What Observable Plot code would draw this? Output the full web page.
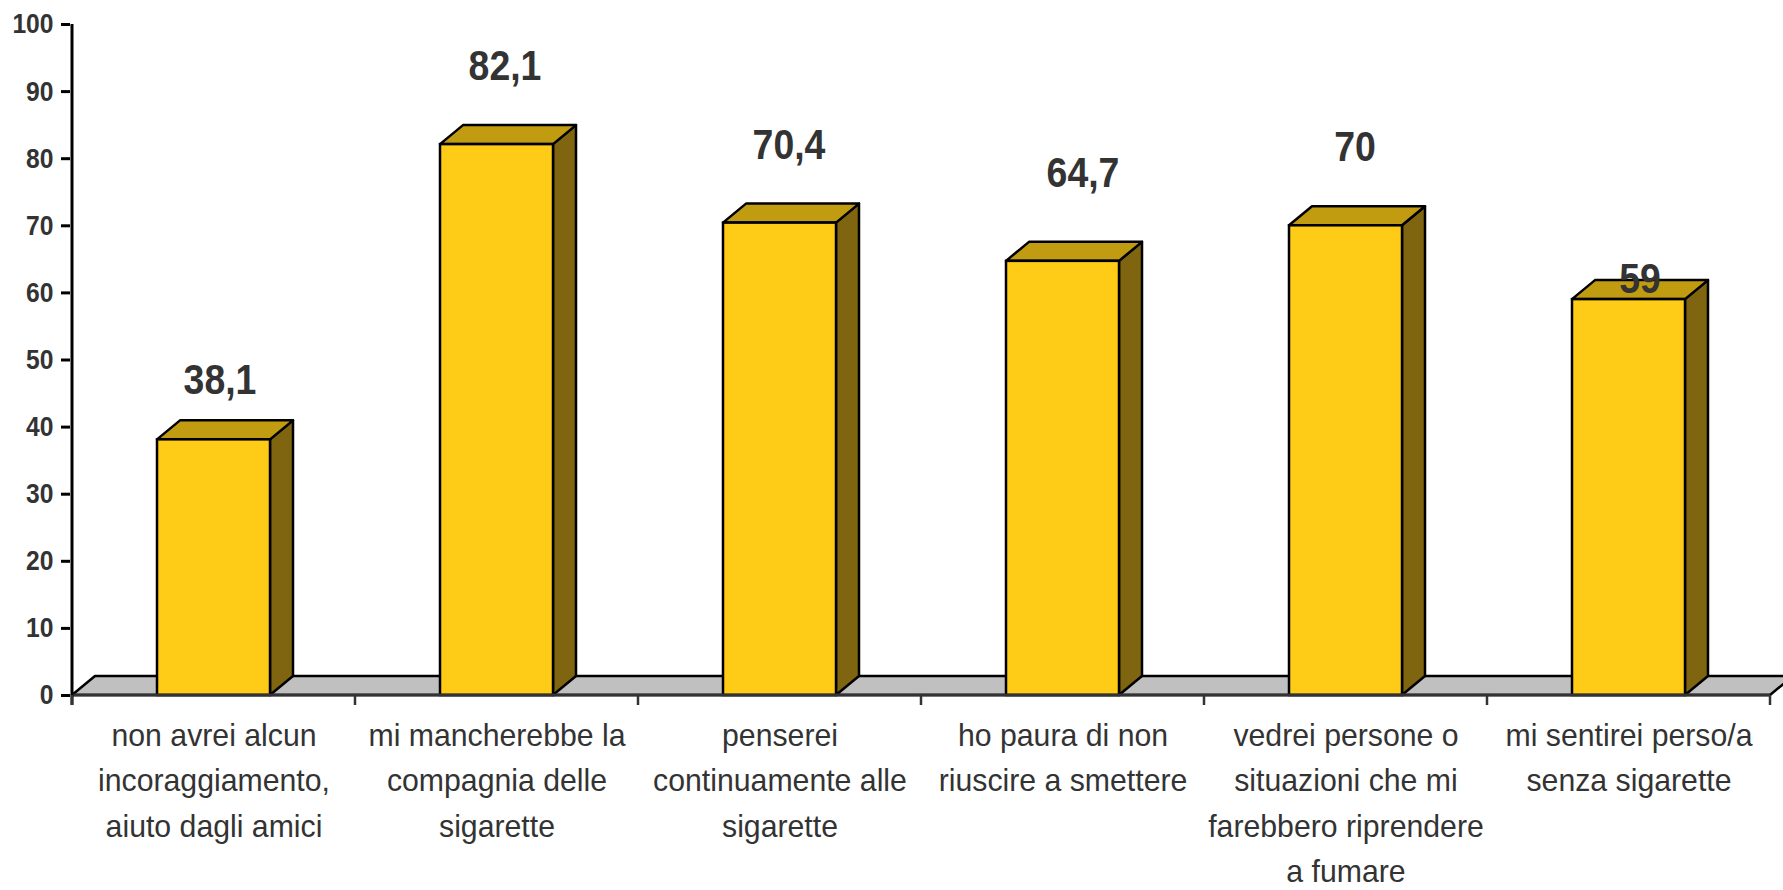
<!DOCTYPE html>
<html>
<head>
<meta charset="utf-8">
<script src="https://cdn.jsdelivr.net/npm/d3@7"></script>
<script src="https://cdn.jsdelivr.net/npm/@observablehq/plot@0.6"></script>
<style>
  html, body { margin: 0; padding: 0; background: #fff; overflow: hidden; }
</style>
</head>
<body>
<div id="chart"></div>
<script>
// ---- data ----
const categories = [
  "non avrei alcun\nincoraggiamento,\naiuto dagli amici",
  "mi mancherebbe la\ncompagnia delle\nsigarette",
  "penserei\ncontinuamente alle\nsigarette",
  "ho paura di non\nriuscire a smettere",
  "vedrei persone o\nsituazioni che mi\nfarebbero riprendere\na fumare",
  "mi sentirei perso/a\nsenza sigarette"
];
const values = [38.1, 82.1, 70.4, 64.7, 70, 59];
const yTicks = [0, 10, 20, 30, 40, 50, 60, 70, 80, 90, 100];

const rows = categories.map((c, i) => ({cat: c, value: values[i]}));

// ---- styling ----
const FRONT = "#FECB17", TOP = "#C29C10", SIDE = "#7F6510", FLOOR = "#C0C0C0";
const DEPTH_X = 23, DEPTH_Y = 19;
const PAD_INNER = 0.6, PAD_OUTER = 0.3;
const labelDx = [6, 8, 9, 20, 9, 11];
const labelDy = [-60, -78, -78, -88, -79, -20];

function boundaries(x) {
  const bw = x.bandwidth(), step = x.step();
  const gap = (step - bw) / 2;
  const b = categories.map(c => x(c) - gap);
  b.push(x(categories[categories.length - 1]) + bw + gap);
  return b;
}

// floor (gray platform)
const floorMark = (index, scales) => {
  const x = scales.x, y = scales.y;
  const b = boundaries(x);
  const x0 = b[0], x1 = b[b.length - 1], y0 = y(0);
  const g = d3.create("svg:g");
  g.append("path")
    .attr("d", `M${x0},${y0}L${x0 + DEPTH_X},${y0 - DEPTH_Y}L${x1 + DEPTH_X},${y0 - DEPTH_Y}L${x1},${y0}Z`)
    .attr("fill", FLOOR).attr("stroke", "#000").attr("stroke-width", 2.5).attr("stroke-linejoin", "round");
  return g.node();
};

// 3D extrusion (top + side faces) for each bar
const extrusionMark = (index, scales) => {
  const x = scales.x, y = scales.y;
  const bw = x.bandwidth(), y0 = y(0);
  const g = d3.create("svg:g").attr("stroke", "#000").attr("stroke-width", 2.5).attr("stroke-linejoin", "round");
  rows.forEach(d => {
    const xl = x(d.cat), xr = xl + bw, yt = y(d.value);
    g.append("path")
      .attr("d", `M${xr},${y0}L${xr + DEPTH_X},${y0 - DEPTH_Y}L${xr + DEPTH_X},${yt - DEPTH_Y}L${xr},${yt}Z`)
      .attr("fill", SIDE);
    g.append("path")
      .attr("d", `M${xl},${yt}L${xl + DEPTH_X},${yt - DEPTH_Y}L${xr + DEPTH_X},${yt - DEPTH_Y}L${xr},${yt}Z`)
      .attr("fill", TOP);
  });
  return g.node();
};

// axis lines and category boundary ticks
const axisLinesMark = (index, scales) => {
  const x = scales.x, y = scales.y;
  const b = boundaries(x);
  const y0 = y(0), yTop = y(100);
  const g = d3.create("svg:g").attr("stroke", "#222").attr("stroke-width", 3);
  g.append("line").attr("x1", b[0]).attr("x2", b[b.length - 1]).attr("y1", y0).attr("y2", y0).attr("stroke", "#333");
  g.append("line").attr("x1", b[0]).attr("x2", b[0]).attr("y1", yTop).attr("y2", y0 + 10).attr("stroke", "#000");
  b.forEach(bx => {
    g.append("line").attr("x1", bx).attr("x2", bx).attr("y1", y0).attr("y2", y0 + 10).attr("stroke", "#333").attr("stroke-width", 2.5);
  });
  return g.node();
};

const fmt = v => String(v).replace(".", ",");

const valueLabels = rows.map((d, i) =>
  Plot.text([d], {
    x: "cat", y: "value", text: r => fmt(r.value),
    fontSize: 43, fontWeight: "bold", fill: "#333",
    dx: labelDx[i], dy: labelDy[i]
  })
);

const plot = Plot.plot({
  width: 1783,
  height: 890,
  marginTop: 24,
  marginBottom: 195,
  marginLeft: 70,
  marginRight: 11,
  style: {fontFamily: "'Liberation Sans', Arial, sans-serif", background: "#fff", overflow: "visible"},
  x: {domain: categories, paddingInner: PAD_INNER, paddingOuter: PAD_OUTER, label: null},
  y: {domain: [0, 100], label: null},
  marks: [
    floorMark,
    extrusionMark,
    Plot.barY(rows, {x: "cat", y: "value", fill: FRONT, stroke: "#000", strokeWidth: 2.5, inset: 0}),
    ...valueLabels,
    Plot.axisY({ticks: yTicks, tickSize: 9, tickPadding: 8, fontSize: 28, fontWeight: "bold",
                stroke: "#000", strokeWidth: 3, fill: "#333", label: null}),
    Plot.axisX({tickSize: 0, tickPadding: 18, fontSize: 32, lineHeight: 1.42, fill: "#333", label: null}),
    axisLinesMark
  ]
});

// Horizontal condensing of the text to match the narrow lettering of the original
const scaleMap = {"28": 0.88, "32": 0.945, "43": 0.87};
for (const t of plot.querySelectorAll("text")) {
  const holder = t.closest("[font-size]");
  if (!holder) continue;
  const s = scaleMap[holder.getAttribute("font-size")];
  if (!s) continue;
  const tr = t.getAttribute("transform");
  if (tr) t.setAttribute("transform", tr + ` scale(${s},1)`);
  else {
    const tx = +t.getAttribute("x") || 0, ty = +t.getAttribute("y") || 0;
    t.setAttribute("transform", `translate(${tx},${ty}) scale(${s},1) translate(${-tx},${-ty})`);
  }
}

document.getElementById("chart").appendChild(plot);
</script>
</body>
</html>
